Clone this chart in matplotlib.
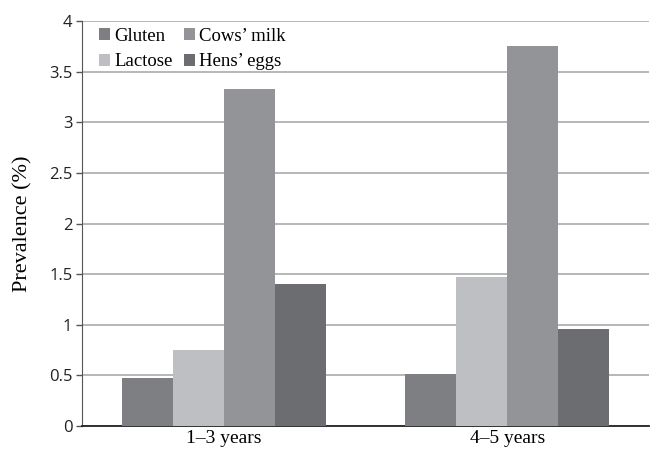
import numpy as np
import matplotlib.pyplot as plt

groups = ['1\u20133 years', '4\u20135 years']
series = ['Gluten', 'Lactose', "Cows\u2019 milk", "Hens\u2019 eggs"]
gluten = [0.48, 0.51]
lactose = [0.75, 1.47]
cows_milk = [3.33, 3.75]
hens_eggs = [1.40, 0.96]
colors = ['#7e7f83', '#bebfc3', '#939498', '#6c6d71']

fig = plt.figure(figsize=(6.57, 4.49), dpi=100)
ax = fig.add_axes([0.125, 0.051, 0.863, 0.902])

x = np.arange(len(groups))
w = 0.18
vals = [gluten, lactose, cows_milk, hens_eggs]
handles = []
for i, (v, c) in enumerate(zip(vals, colors)):
	b = ax.bar(x + (i - 1.5) * w, v, w, color=c, edgecolor='none', zorder=3, label=series[i])
	handles.append(b)

ax.set_xlim(-0.5, 1.5)
ax.set_ylim(0, 4)
ax.set_yticks(np.arange(0, 4.01, 0.5))
ax.set_yticklabels(['0', '0.5', '1', '1.5', '2', '2.5', '3', '3.5', '4'],
	family='Open Sans', fontsize=12, color='#222222')
ax.set_xticks(x)
ax.set_xticklabels(groups, family='Liberation Serif', fontsize=14)
ax.tick_params(axis='x', length=0, pad=3)
ax.tick_params(axis='y', length=4, color='#555555', width=1, pad=3)
ax.yaxis.grid(True, color='#aaaaaa', linewidth=1.2, zorder=0)
ax.set_axisbelow(True)
for s in ['top', 'right']:
	ax.spines[s].set_visible(False)
ax.spines['left'].set_color('#555555')
ax.spines['bottom'].set_color('#222222')
ax.spines['bottom'].set_linewidth(1.3)
ax.set_ylabel('Prevalence (%)', family='Liberation Serif', fontsize=16, labelpad=12)

# legend order: Gluten, Lactose | Cows' milk, Hens' eggs
leg = ax.legend(handles=handles, loc='upper left', bbox_to_anchor=(0.0, 1.025), ncol=2,
	frameon=False, handlelength=0.6, handleheight=0.6, handletextpad=0.2,
	columnspacing=0.6, labelspacing=0.45,
	prop={'family': 'Liberation Serif', 'size': 13.5})

plt.savefig('out.png', dpi=100)
